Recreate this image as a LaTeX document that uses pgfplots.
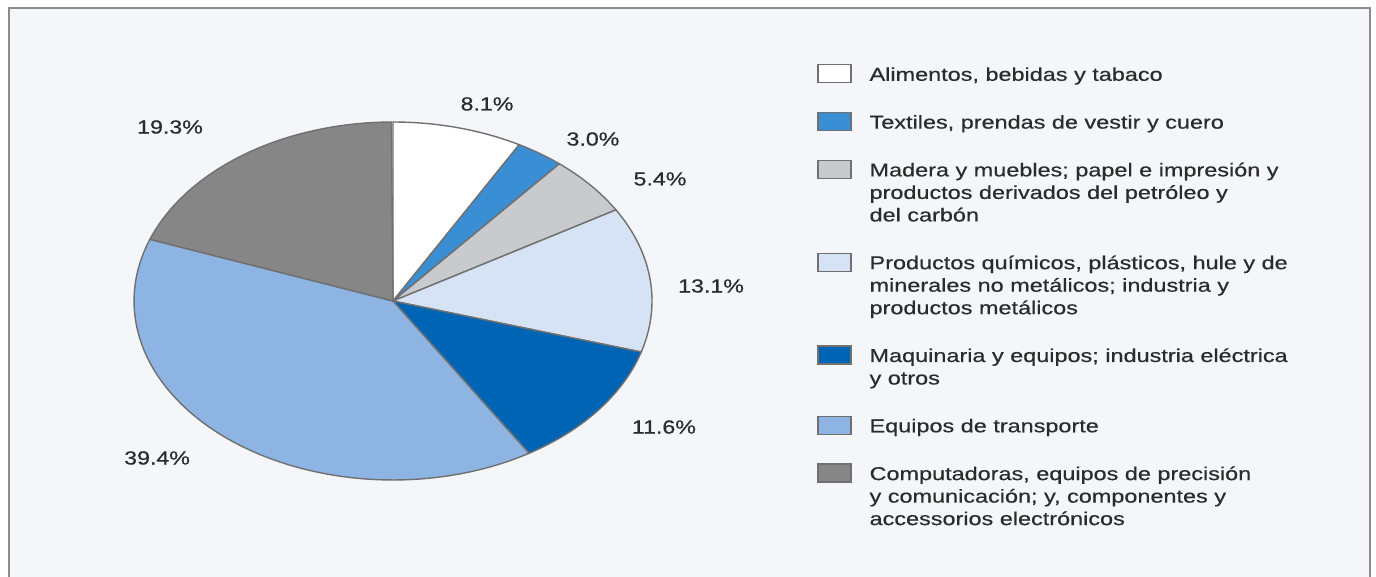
\documentclass[border=0pt]{standalone}
\usepackage{fontspec}
\setmainfont{Liberation Sans}[FakeStretch=1.26, FakeBold=0.5]
\newfontfamily\labfont{Liberation Sans}[FakeStretch=1.22, FakeBold=0.6]
\usepackage{pgfplots}
\pgfplotsset{compat=1.18}

\definecolor{bgfill}{HTML}{F4F6FA}
\definecolor{frame}{HTML}{8C8C8C}
\definecolor{edge}{HTML}{707070}
\definecolor{txt}{HTML}{2B2B2B}
\definecolor{cAli}{HTML}{FFFFFF}
\definecolor{cTex}{HTML}{3A8FD4}
\definecolor{cMad}{HTML}{C9CACD}
\definecolor{cQui}{HTML}{D5E3F4}
\definecolor{cMaq}{HTML}{0064B4}
\definecolor{cTra}{HTML}{8DB4E2}
\definecolor{cCom}{HTML}{868686}

% one slice: #1 = cumulative share before it (%), #2 = share (%), #3 = colour
% slices run clockwise from 12 o'clock
\newcommand\slice[3]{%
  \pgfmathsetmacro\angA{90-3.6*(#1+#2)}%
  \pgfmathsetmacro\angB{90-3.6*(#1)}%
  \edef\doslice{\noexpand\addplot[fill=#3, draw=edge, line width=0.7bp,
    domain=\angA:\angB, samples=60]}%
  \doslice ({cos(x)},{sin(x)}) -- (axis cs:0,0) -- cycle;
}
% legend text with fixed first-line height and last-line depth
\newcommand\legtext[1]{\rule{0pt}{8.5bp}#1\rule[-2.75bp]{0pt}{2.75bp}}
\newcommand\pct[3]{\node[font=\labfont\fontsize{9.5bp}{11bp}\selectfont, text=txt]
  at (axis cs:#1,#2) {#3\%};}

\begin{document}
\begin{tikzpicture}
\path[use as bounding box] (0,0) rectangle (688bp,288.5bp);
\fill[white] (0,0) rectangle (688bp,288.5bp);
\draw[frame, line width=1bp, fill=bgfill] (4.5bp,-10bp) rectangle (685bp,284.3bp);

\begin{axis}[
    at={(196.5bp,138bp)}, anchor=center,
    scale only axis,
    width=259bp, height=179bp,
    xmin=-1, xmax=1, ymin=-1, ymax=1,
    hide axis,
    clip=false,
    legend image code/.code={\draw[#1, line width=0.6bp] (0bp,-0.67bp) rectangle (16.5bp,-9.67bp);},
    legend style={
        at={(1.3185,1.1648)}, anchor=north west,
        draw=none, fill=none, inner sep=0pt,
        row sep=12.45bp, column sep=9bp,
        font=\fontsize{9.3bp}{11.25bp}\selectfont,
        text=txt,
        nodes={inner sep=0pt, text depth=, text height=},
        cells={anchor=north west, align=left},
    },
]
\slice{0}{8.1}{cAli}
\addlegendentry{\legtext{Alimentos, bebidas y tabaco}}
\slice{8.1}{3.0}{cTex}
\addlegendentry{\legtext{Textiles, prendas de vestir y cuero}}
\slice{11.1}{5.4}{cMad}
\addlegendentry{\legtext{Madera y muebles; papel e impresión y\\productos derivados del petróleo y\\del carbón}}
\slice{16.5}{13.1}{cQui}
\addlegendentry{\legtext{Productos químicos, plásticos, hule y de\\minerales no metálicos; industria y\\productos metálicos}}
\slice{29.6}{11.6}{cMaq}
\addlegendentry{\legtext{Maquinaria y equipos; industria eléctrica\\y otros}}
\slice{41.2}{39.4}{cTra}
\addlegendentry{\legtext{Equipos de transporte}}
\slice{80.6}{19.3}{cCom}
\addlegendentry{\legtext{Computadoras, equipos de precisión\\y comunicación; y, componentes y\\accessorios electrónicos}}

\pct{0.363}{1.101}{8.1}
\pct{0.772}{0.905}{3.0}
\pct{1.031}{0.682}{5.4}
\pct{1.228}{0.084}{13.1}
\pct{1.046}{-0.704}{11.6}
\pct{-0.911}{-0.877}{39.4}
\pct{-0.861}{0.972}{19.3}
\end{axis}
\end{tikzpicture}
\end{document}
